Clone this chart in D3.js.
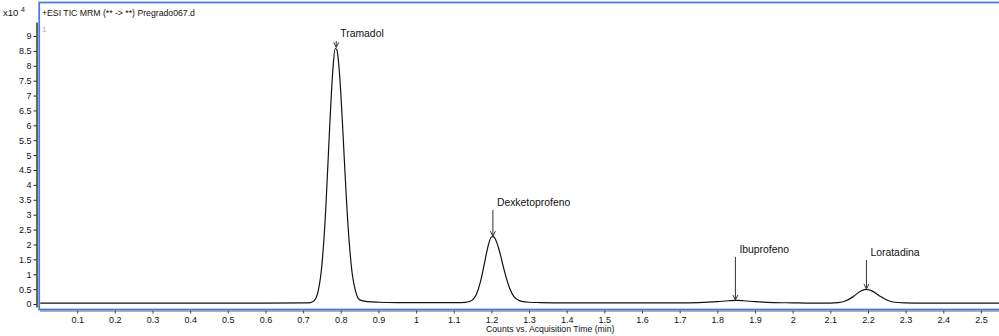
<!DOCTYPE html>
<html>
<head>
<meta charset="utf-8">
<script src="https://cdn.jsdelivr.net/npm/d3@7"></script>
<style>
  body { margin: 0; background: #fff; }
  svg text { font-family: "Liberation Sans", Arial, sans-serif; }
</style>
</head>
<body>
<div id="chart"></div>
<script>
// acquisition time (min) and counts (x10^4)
var times = [0, 0.2, 0.4, 0.6, 0.7, 0.72, 0.73, 0.74, 0.75, 0.76, 0.77, 0.775, 0.78, 0.785, 0.79, 0.795,
  0.80, 0.805, 0.81, 0.82, 0.83, 0.84, 0.85, 0.87, 0.9, 0.95, 1.0, 1.05, 1.1, 1.12, 1.13, 1.14, 1.15,
  1.16, 1.17, 1.18, 1.19, 1.20, 1.205, 1.21, 1.22, 1.23, 1.24, 1.25, 1.26, 1.27, 1.28, 1.30, 1.33, 1.4,
  1.5, 1.6, 1.7, 1.75, 1.8, 1.83, 1.85, 1.87, 1.9, 1.95, 2.0, 2.05, 2.1, 2.12, 2.14, 2.16, 2.18, 2.195,
  2.21, 2.23, 2.25, 2.27, 2.3, 2.35, 2.4, 2.5, 2.56]
var counts = [0.03, 0.03, 0.03, 0.03, 0.04, 0.05, 0.12, 0.43, 1.32, 3.15, 5.8, 7.04, 8.03, 8.58, 8.52, 8.0,
  7.1, 5.96, 4.72, 2.5, 1.06, 0.4, 0.14, 0.08, 0.06, 0.05, 0.05, 0.05, 0.05, 0.05, 0.055, 0.075, 0.14,
  0.32, 0.7, 1.27, 1.88, 2.25, 2.26, 2.19, 1.84, 1.34, 0.86, 0.48, 0.25, 0.14, 0.09, 0.06, 0.05, 0.04,
  0.04, 0.04, 0.04, 0.05, 0.08, 0.11, 0.12, 0.11, 0.08, 0.05, 0.04, 0.03, 0.03, 0.045, 0.1, 0.24, 0.43, 0.49,
  0.44, 0.28, 0.135, 0.06, 0.04, 0.03, 0.03, 0.03, 0.03]

var yTicks = [0, 0.5, 1, 1.5, 2, 2.5, 3, 3.5, 4, 4.5, 5, 5.5, 6, 6.5, 7, 7.5, 8, 8.5, 9]
var xTicks = [0.1, 0.2, 0.3, 0.4, 0.5, 0.6, 0.7, 0.8, 0.9, 1, 1.1, 1.2, 1.3, 1.4, 1.5, 1.6, 1.7, 1.8, 1.9,
  2, 2.1, 2.2, 2.3, 2.4, 2.5]

var peakNames = ["Tramadol", "Dexketoprofeno", "Ibuprofeno", "Loratadina"]
var peakTimes = [0.788, 1.204, 1.848, 2.196]
var peakCounts = [8.6, 2.26, 0.12, 0.49]

var title = "+ESI TIC MRM (** -> **) Pregrado067.d"
var xTitle = "Counts vs. Acquisition Time (min)"

var width = 999, height = 336
var labelY = [33, 202, 249, 252]   // where each compound name sits

var svg = d3.select("#chart").append("svg").attr("width", width).attr("height", height)

var x = d3.scaleLinear().domain([0, 2.548]).range([39.5, 999])
var y = d3.scaleLinear().domain([-0.1, 9.47]).range([307, 22])

// x axis under the blue frame
var xAxis = d3.axisBottom(x).tickValues(xTicks).tickSize(3).tickSizeOuter(0).tickPadding(3)
  .tickFormat(function(d){ return String(d) })
var gx = svg.append("g").attr("transform", "translate(0,310.5)").call(xAxis)
gx.select(".domain").attr("stroke", "#666")
gx.selectAll(".tick line").attr("stroke", "#444")
gx.selectAll("text").attr("font-size", 9).attr("fill", "#111")
  .style("font-family", "'Liberation Sans', Arial, sans-serif")

// y axis
var yAxis = d3.axisLeft(y).tickValues(yTicks).tickSize(3).tickSizeOuter(0).tickPadding(2)
  .tickFormat(function(d){ return String(d) })
var gy = svg.append("g").attr("transform", "translate(36.5,0)").call(yAxis)
gy.select(".domain").attr("stroke", "#000").attr("stroke-width", 1.2)
gy.selectAll(".tick line").attr("stroke", "#222")
gy.selectAll("text").attr("font-size", 9).attr("fill", "#111")
  .style("font-family", "'Liberation Sans', Arial, sans-serif")

// blue frame around the plot
svg.append("rect")
  .attr("x", 39.2).attr("y", 2.5).attr("width", 1000).attr("height", 307)
  .attr("fill", "none").attr("stroke", "#4a7dd6").attr("stroke-width", 1.8)

svg.append("clipPath").attr("id", "plotClip").append("rect")
  .attr("x", 40.2).attr("y", 3.5).attr("width", 960).attr("height", 305)

var line = d3.line()
  .x(function(d,i){ return x(times[i]) })
  .y(function(d,i){ return y(counts[i]) })
  .curve(d3.curveMonotoneX)

svg.append("path")
  .datum(counts)
  .attr("clip-path", "url(#plotClip)")
  .attr("d", line)
  .attr("fill", "none")
  .attr("stroke", "#111")
  .attr("stroke-width", 1.2)

// compound labels with arrows pointing at the peak tops
peakNames.forEach(function(name, i){
  var px = x(peakTimes[i])
  var tipY = y(peakCounts[i]) - 0.5
  var startY = labelY[i] + 8
  svg.append("line")
    .attr("x1", px).attr("x2", px).attr("y1", startY).attr("y2", tipY)
    .attr("stroke", "#333").attr("stroke-width", 1)
  svg.append("path")
    .attr("d", "M" + (px - 2.5) + "," + (tipY - 5) + "L" + px + "," + tipY + "L" + (px + 2.5) + "," + (tipY - 5))
    .attr("fill", "none").attr("stroke", "#333").attr("stroke-width", 1)
  svg.append("text")
    .text(name)
    .attr("x", px + 4).attr("y", labelY[i] + 3.5)
    .attr("font-size", 10.4).attr("fill", "#111")
})

// header texts
svg.append("text").text(title).attr("x", 42).attr("y", 16)
  .attr("font-size", 8.7).attr("fill", "#111")
svg.append("text").text("1").attr("x", 42).attr("y", 32)
  .attr("font-size", 8).attr("fill", "#aaa")
var mult = svg.append("text").attr("x", 3).attr("y", 16).attr("font-size", 9.5).attr("fill", "#111")
mult.append("tspan").text("x10 ")
mult.append("tspan").text("4").attr("font-size", 7).attr("dy", -4)

svg.append("text").text(xTitle).attr("x", 486).attr("y", 332)
  .attr("font-size", 8.7).attr("fill", "#111")
</script>
</body>
</html>
